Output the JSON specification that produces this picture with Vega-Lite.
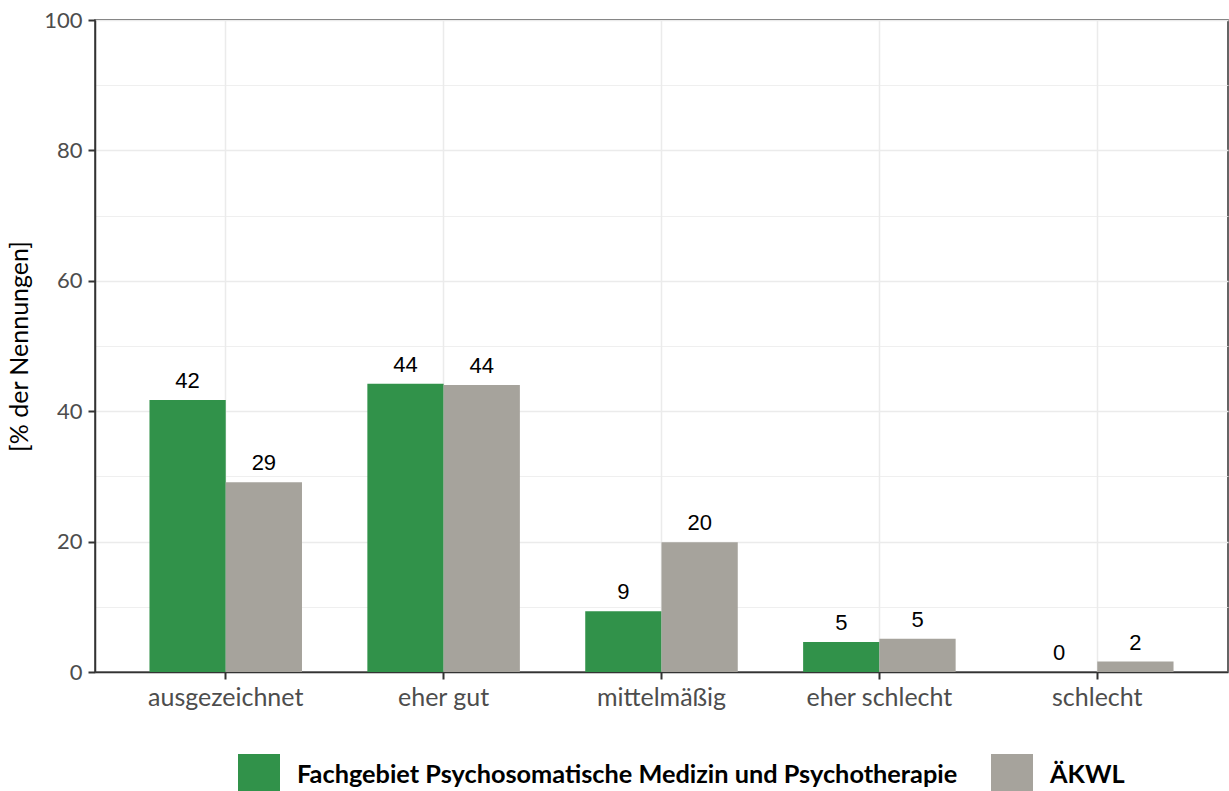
{
  "$schema": "https://vega.github.io/schema/vega-lite/v6.json",
  "width": 1133,
  "height": 652,
  "autosize": {"type": "none"},
  "padding": {"left": 95, "top": 20, "right": 1, "bottom": 119},
  "background": "white",
  "data": {
    "values": [
      {"Kategorie": "ausgezeichnet", "Gruppe": "Fachgebiet Psychosomatische Medizin und Psychotherapie", "Wert": 41.7},
      {"Kategorie": "ausgezeichnet", "Gruppe": "ÄKWL", "Wert": 29.1},
      {"Kategorie": "eher gut", "Gruppe": "Fachgebiet Psychosomatische Medizin und Psychotherapie", "Wert": 44.2},
      {"Kategorie": "eher gut", "Gruppe": "ÄKWL", "Wert": 44.0},
      {"Kategorie": "mittelmäßig", "Gruppe": "Fachgebiet Psychosomatische Medizin und Psychotherapie", "Wert": 9.3},
      {"Kategorie": "mittelmäßig", "Gruppe": "ÄKWL", "Wert": 19.9},
      {"Kategorie": "eher schlecht", "Gruppe": "Fachgebiet Psychosomatische Medizin und Psychotherapie", "Wert": 4.6},
      {"Kategorie": "eher schlecht", "Gruppe": "ÄKWL", "Wert": 5.1},
      {"Kategorie": "schlecht", "Gruppe": "Fachgebiet Psychosomatische Medizin und Psychotherapie", "Wert": 0},
      {"Kategorie": "schlecht", "Gruppe": "ÄKWL", "Wert": 1.6}
    ]
  },
  "encoding": {
    "x": {
      "field": "Kategorie",
      "type": "nominal",
      "sort": ["ausgezeichnet", "eher gut", "mittelmäßig", "eher schlecht", "schlecht"],
      "scale": {"paddingInner": 0.3, "paddingOuter": 0.25},
      "axis": {
        "title": null,
        "labelAngle": 0,
        "grid": true,
        "bandPosition": 0.5,
        "gridColor": "#EBEBEB",
        "gridWidth": 1.5,
        "labelFont": "Lato",
        "labelFontSize": 25,
        "labelColor": "#4D4D4D",
        "labelPadding": 6,
        "tickColor": "#333333",
        "tickWidth": 2,
        "tickSize": 7,
        "domainColor": "#333333",
        "domainWidth": 1.5
      }
    },
    "xOffset": {
      "field": "Gruppe",
      "type": "nominal",
      "sort": ["Fachgebiet Psychosomatische Medizin und Psychotherapie", "ÄKWL"]
    },
    "y": {
      "field": "Wert",
      "type": "quantitative",
      "scale": {"domain": [0, 100], "nice": false},
      "axis": {
        "title": "[% der Nennungen]",
        "titleFont": "Lato",
        "titleFontSize": 25,
        "titleFontWeight": "normal",
        "titleColor": "black",
        "titlePadding": 11,
        "values": [0, 10, 20, 30, 40, 50, 60, 70, 80, 90, 100],
        "labelExpr": "datum.value % 20 === 0 ? datum.label : ''",
        "labelFont": "Lato",
        "labelFontSize": 22,
        "labelColor": "#4D4D4D",
        "labelPadding": 6,
        "tickColor": "#333333",
        "tickWidth": 2,
        "tickSize": 7,
        "tickOpacity": {"condition": {"test": "datum.value % 20 !== 0", "value": 0}, "value": 1},
        "grid": true,
        "gridColor": "#EBEBEB",
        "gridWidth": {"condition": {"test": "datum.value % 20 !== 0", "value": 0.8}, "value": 1.5},
        "domainColor": "#333333",
        "domainWidth": 1.5
      }
    }
  },
  "layer": [
    {
      "mark": {"type": "bar"},
      "encoding": {
        "color": {
          "field": "Gruppe",
          "type": "nominal",
          "sort": ["Fachgebiet Psychosomatische Medizin und Psychotherapie", "ÄKWL"],
          "scale": {"range": ["#31924A", "#A6A39C"]},
          "legend": {
            "title": null,
            "orient": "none",
            "legendX": 143,
            "legendY": 734,
            "direction": "horizontal",
            "padding": 0,
            "symbolType": "square",
            "symbolSize": 1764,
            "symbolStrokeWidth": 0,
            "labelFont": "Lato",
            "labelFontSize": 25.3,
            "labelFontWeight": "bold",
            "labelColor": "black",
            "labelOffset": 17,
            "labelLimit": 1000,
            "columnPadding": 33
          }
        }
      }
    },
    {
      "mark": {"type": "text", "baseline": "bottom", "dy": -7, "font": "Liberation Sans", "fontSize": 22, "color": "black"},
      "encoding": {
        "text": {"field": "Wert", "type": "quantitative", "format": ".0f"}
      }
    }
  ],
  "config": {
    "view": {"stroke": "#333333", "strokeWidth": 1.5}
  }
}
